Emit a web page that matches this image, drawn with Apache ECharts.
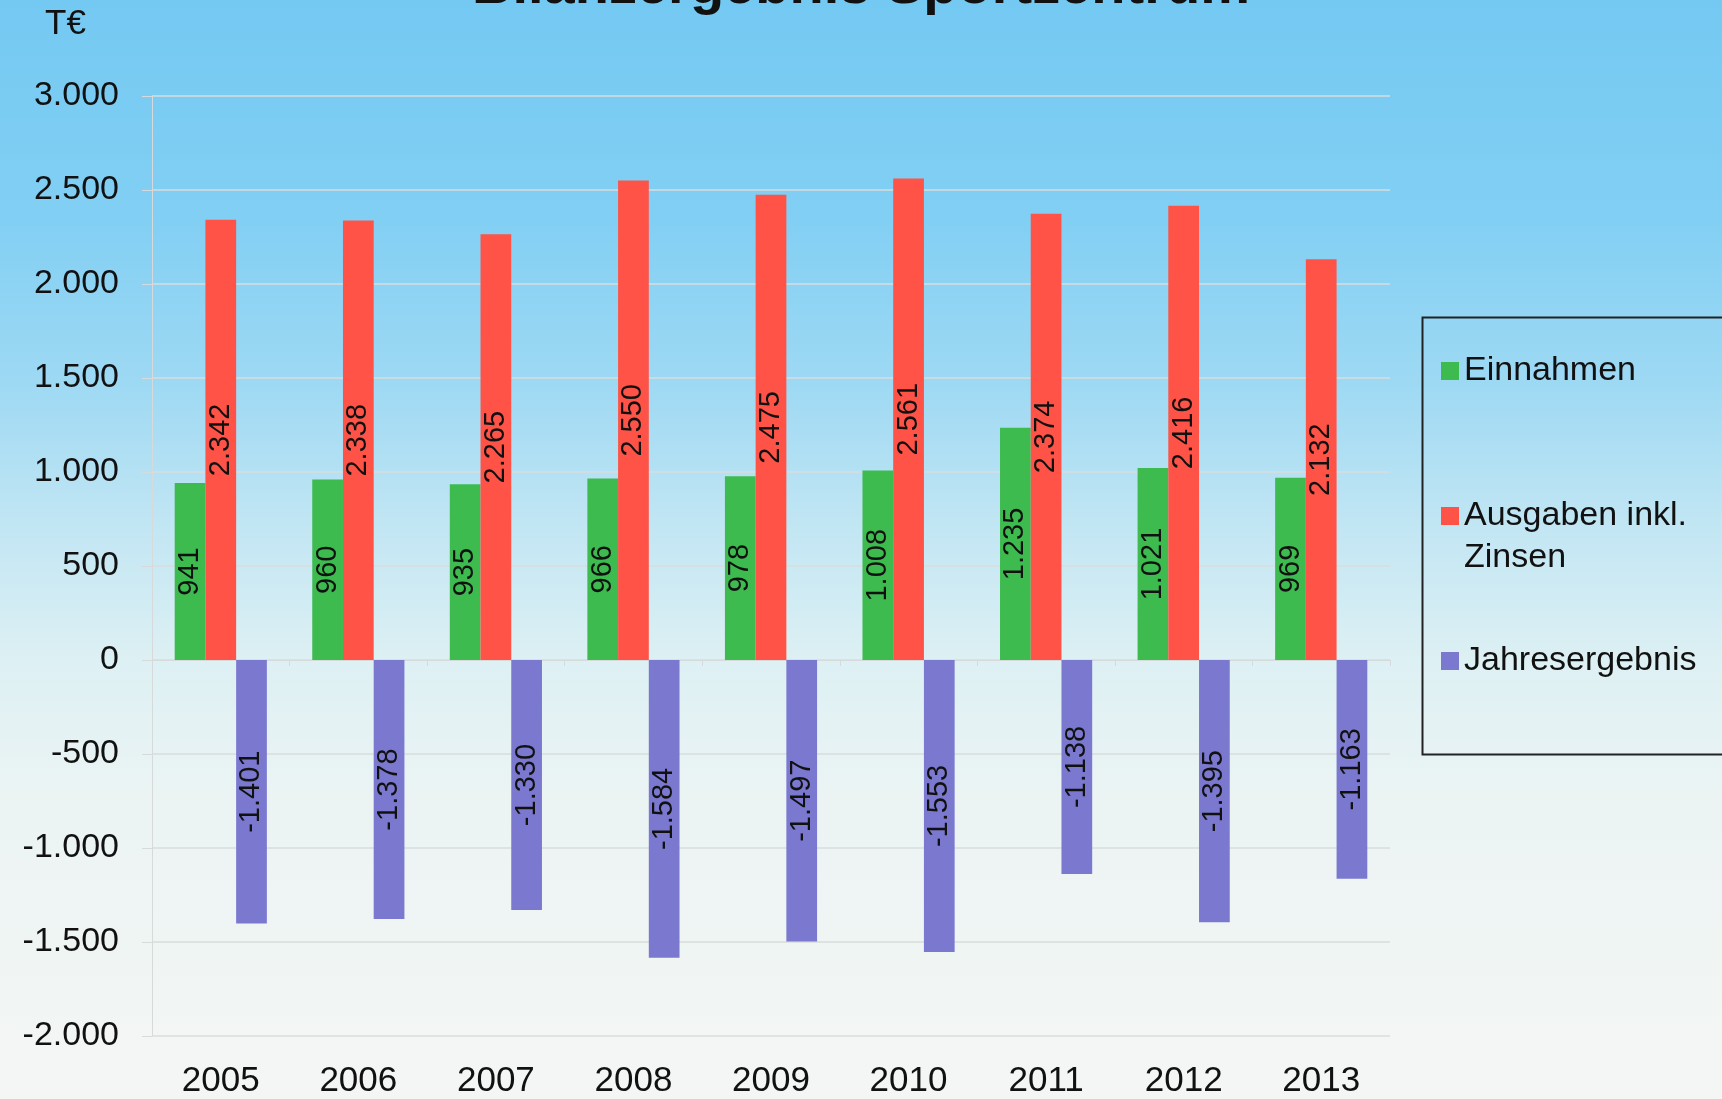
<!DOCTYPE html>
<html>
<head>
<meta charset="utf-8">
<script src="https://cdn.jsdelivr.net/npm/echarts@6/dist/echarts.min.js"></script>
<style>
  html, body { margin: 0; padding: 0; }
  #chart { width: 1722px; height: 1099px; }
</style>
</head>
<body>
<div id="chart"></div>
<script>
const years = ['2005', '2006', '2007', '2008', '2009', '2010', '2011', '2012', '2013']
const einnahmen = [941, 960, 935, 966, 978, 1008, 1235, 1021, 969]
const ausgaben = [2342, 2338, 2265, 2550, 2475, 2561, 2374, 2416, 2132]
const jahresergebnis = [-1401, -1378, -1330, -1584, -1497, -1553, -1138, -1395, -1163]

const FONT = '"Liberation Sans", Arial, sans-serif'

// German number format: 2.342, -1.401
const fmt = (v) => {
  const s = String(Math.abs(v)).replace(/\B(?=(\d{3})+(?!\d))/g, '.')
  return (v < 0 ? '-' : '') + s
}

const chart = echarts.init(document.getElementById('chart'))

const barLabel = {
  show: true,
  position: 'inside',
  rotate: 90,
  fontFamily: FONT,
  fontSize: 29,
  color: '#111',
  formatter: (p) => fmt(p.value)
}

const option = {
  backgroundColor: new echarts.graphic.LinearGradient(0, 0, 0, 1, [
    { offset: 0, color: '#74c9f2' },
    { offset: 0.2, color: '#82cff4' },
    { offset: 0.35, color: '#9ed9f3' },
    { offset: 0.48, color: '#c2e6f3' },
    { offset: 0.6, color: '#ddf0f3' },
    { offset: 0.72, color: '#ebf4f3' },
    { offset: 1, color: '#f4f6f4' }
  ]),
  title: [
    {
      text: 'Bilanzergebnis Sportzentrum',
      left: 'center',
      top: -40,
      padding: 0,
      textStyle: { fontFamily: FONT, fontSize: 56, fontWeight: 'bold', color: '#111', lineHeight: 56 }
    },
    {
      text: 'T€',
      left: 45,
      top: 7,
      padding: 0,
      textStyle: { fontFamily: FONT, fontSize: 35, fontWeight: 'normal', color: '#111' }
    }
  ],
  legend: {
    orient: 'vertical',
    left: 1441,
    top: 350,
    padding: 0,
    itemWidth: 18,
    itemHeight: 18,
    itemGap: 61,
    icon: 'rect',
    textStyle: { fontFamily: FONT, fontSize: 34, lineHeight: 42, color: '#111' },
    // leading blank line keeps the icon level with the first text line
    formatter: (name) => (name.indexOf('\n') >= 0 ? '\n' + name : name),
    data: ['Einnahmen', 'Ausgaben inkl.\nZinsen', 'Jahresergebnis']
  },
  graphic: [
    {
      type: 'rect',
      left: 1420,
      top: 315,
      shape: { width: 400, height: 437 },
      style: { fill: 'none', stroke: '#222', lineWidth: 2 },
      silent: true
    }
  ],
  grid: { left: 152, right: 332, top: 96, bottom: 61 },
  xAxis: [
    {
      type: 'category',
      data: years,
      position: 'bottom',
      axisLine: { show: false, onZero: false },
      axisTick: { show: false },
      axisLabel: { fontFamily: FONT, fontSize: 35, color: '#111', margin: 28 }
    },
    {
      type: 'category',
      data: years,
      position: 'top',
      axisLine: { show: true, onZero: true, lineStyle: { color: '#d6dadb', width: 1 } },
      axisTick: { show: true, inside: true, length: 6, lineStyle: { color: '#d6dadb' } },
      axisLabel: { show: false }
    }
  ],
  yAxis: {
    type: 'value',
    min: -2000,
    max: 3000,
    interval: 500,
    axisLine: { show: true, lineStyle: { color: '#d6dadb', width: 1 } },
    axisTick: { show: true, length: 10, lineStyle: { color: '#d6dadb' } },
    splitLine: { lineStyle: { color: '#d9dddd', width: 1.5 } },
    axisLabel: {
      fontFamily: FONT,
      fontSize: 34,
      color: '#111',
      margin: 33,
      formatter: (v) => fmt(v)
    }
  },
  series: [
    {
      name: 'Einnahmen',
      type: 'bar',
      data: einnahmen,
      barGap: '0%',
      barCategoryGap: '33%',
      itemStyle: { color: '#3dbb4f' },
      label: barLabel
    },
    {
      name: 'Ausgaben inkl.\nZinsen',
      type: 'bar',
      data: ausgaben,
      itemStyle: { color: '#fe5346' },
      label: barLabel
    },
    {
      name: 'Jahresergebnis',
      type: 'bar',
      data: jahresergebnis,
      itemStyle: { color: '#7b78d0' },
      label: barLabel
    }
  ]
}

chart.setOption(option)
</script>
</body>
</html>
